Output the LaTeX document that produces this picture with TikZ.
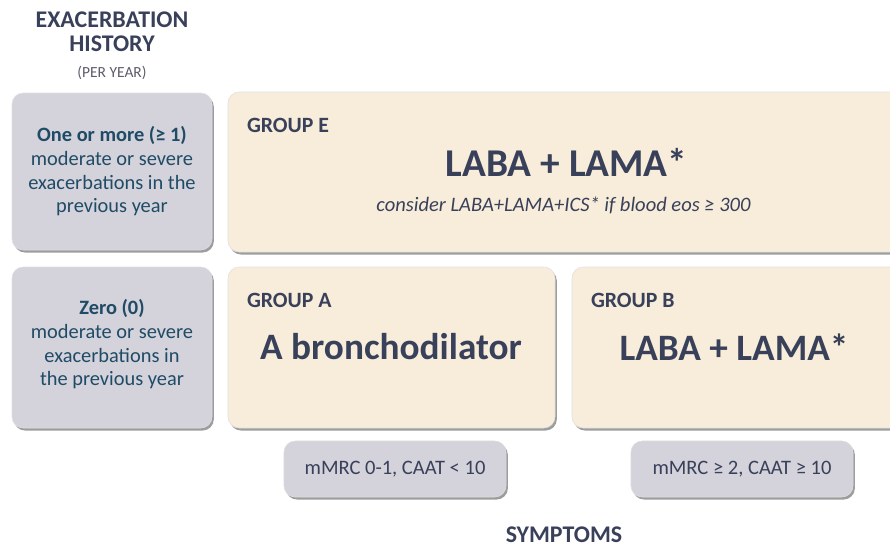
\documentclass[tikz,border=0pt]{standalone}
\usepackage{fontspec}
\setmainfont{Carlito}
\usetikzlibrary{positioning,shadows,fit}

\definecolor{creamfill}{HTML}{F8EDDA}
\definecolor{greyfill}{HTML}{D4D2DA}
\definecolor{slatetext}{HTML}{39405A}
\definecolor{tealtext}{HTML}{1F4B66}
\definecolor{softgrey}{HTML}{5A5E6C}

\tikzset{
  card/.style={draw=black!12, line width=0.4pt, rounded corners=8pt, inner sep=0pt,
    drop shadow={shadow xshift=1.3pt, shadow yshift=-1.8pt, opacity=0.7, fill=black!55}},
  historybox/.style={card, fill=greyfill},
  groupbox/.style={card, fill=creamfill},
  symbox/.style={card, fill=greyfill, minimum width=5.55cm, minimum height=1.4cm,
    font=\fontsize{14.6}{16}\selectfont, text=slatetext},
  grouptitle/.style={anchor=north west, inner sep=0pt, text=slatetext,
    font=\fontsize{15.5}{18}\selectfont\bfseries},
  therapy/.style={inner sep=0pt, text=slatetext, font=\fontsize{26.5}{30}\selectfont\bfseries},
  remark/.style={inner sep=0pt, text=slatetext, font=\fontsize{14.6}{16}\selectfont\itshape},
  history/.style={inner sep=0pt, align=center, text=tealtext, font=\fontsize{14.5}{16.8}\selectfont},
  axislabel/.style={inner sep=0pt, align=center, text=slatetext, font=\fontsize{17}{17.5}\selectfont\bfseries}
}

\begin{document}
\begin{tikzpicture}[x=0.025cm, y=-0.025cm]
 \useasboundingbox (0,0) rectangle (890,547);

 % exacerbation history column
 \node[historybox, fit={(12,93) (212,250)}] (hiMore) {};
 \node[historybox, fit={(12,267) (212,428)}] (hiZero) {};
 \node[history] at ([shift={(0,0)}]hiMore.center) {{\bfseries One or more (≥ 1)}\\moderate or severe\\exacerbations in the\\previous year};
 \node[history] at ([shift={(0,-3)}]hiZero.center) {{\bfseries Zero (0)}\\moderate or severe\\exacerbations in\\the previous year};
 \node[axislabel, above=9pt of hiMore] (hiHead) {EXACERBATION\\HISTORY\\[1pt]{\mdseries\fontsize{11}{13}\selectfont\color{softgrey}(PER YEAR)}};

 % treatment groups
 \node[groupbox, fit={(228,92) (905,252)}] (grpE) {};
 \node[groupbox, fit={(228,267) (555,428)}] (grpA) {};
 \node[groupbox, fit={(572,267) (905,428)}] (grpB) {};

 \foreach \grp/\lbl in {grpE/E, grpA/A, grpB/B} {
  \node[grouptitle] at ([shift={(19,26)}]\grp.north west) {GROUP \lbl};
 }

 \node[therapy, font=\fontsize{28}{30}\selectfont\bfseries] at ([shift={(0,-10)}]grpE.center) (thE) {LABA + LAMA*};
 \node[remark] at ([shift={(-3,33)}]grpE.center) {consider LABA+LAMA+ICS* if blood eos ≥ 300};
 \node[therapy] at (391,347) (thA) {A bronchodilator};
 \node[therapy] at (734,347) (thB) {LABA + LAMA*};

 % symptom categories
 \foreach \xc/\nm/\txt in {395/symLow/{mMRC 0-1, CAAT < 10}, 742/symHigh/{mMRC ≥ 2, CAAT ≥ 10}} {
  \node[symbox] at (\xc,469) (\nm) {\txt};
 }
 \node[axislabel] at (564,535) (symHead) {SYMPTOMS};
\end{tikzpicture}
\end{document}
